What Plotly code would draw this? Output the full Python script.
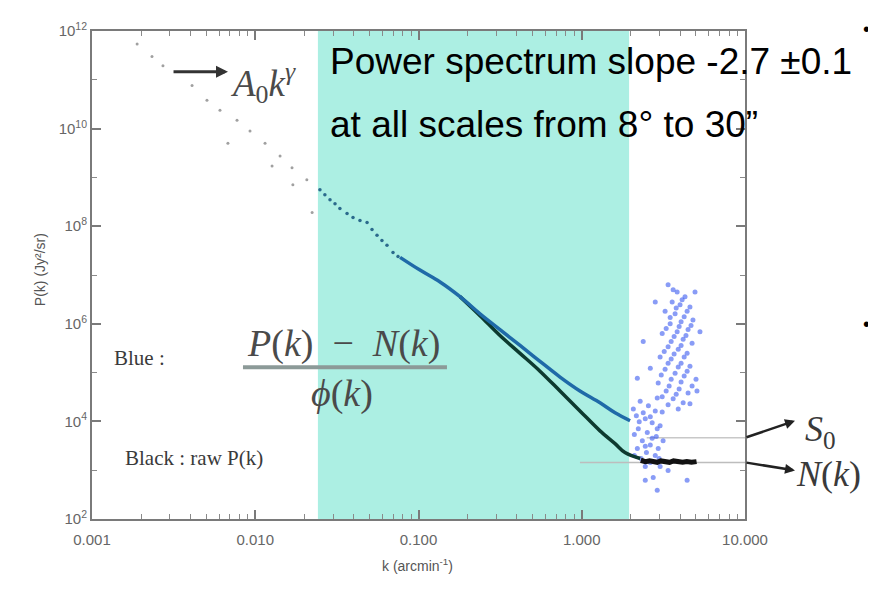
import plotly.graph_objects as go

# ---------------- data ----------------
# low-k grey points (A0 k^gamma regime)
grey_k = [0.00189, 0.00233, 0.00272, 0.0041, 0.00506, 0.00608, 0.0068, 0.00773,
          0.00929, 0.01148, 0.01268, 0.01419, 0.0168, 0.0170, 0.0207, 0.0223]
grey_P = [5.4e11, 3.0e11, 1.95e11, 7.6e10, 3.8e10, 2.37e10, 5.0e9, 1.48e10,
          8.9e9, 5.0e9, 1.72e9, 2.75e9, 1.57e9, 7.1e8, 8.9e8, 1.9e8]

# dotted dark points where the corrected spectrum starts
bdot_k = [0.0249, 0.0267, 0.0287, 0.0308, 0.0330, 0.0365, 0.0397, 0.0438,
          0.0484, 0.0519, 0.0557, 0.0597, 0.0641, 0.0698, 0.0749]
bdot_P = [5.6e8, 4.4e8, 3.5e8, 2.9e8, 2.3e8, 1.82e8, 1.51e8, 1.31e8,
          1.19e8, 8.6e7, 6.5e7, 5.1e7, 4.07e7, 2.9e7, 2.4e7]

# blue: (P(k) - N(k)) / phi(k)
blue_k = [0.0771, 0.1021, 0.1355, 0.1796, 0.2381, 0.3155, 0.4188, 0.5548,
          0.7362, 0.975, 1.294, 1.600, 1.977]
blue_P = [2.3e7, 1.26e7, 7.2e6, 3.6e6, 1.6e6, 7.6e5, 3.6e5, 1.7e5,
          8.1e4, 4.2e4, 2.4e4, 1.5e4, 1.03e4]

# black: raw P(k)
black_k = [0.1796, 0.2381, 0.3155, 0.4188, 0.5548, 0.7362, 0.975, 1.294,
           1.600, 1.84, 2.28]
black_P = [3.6e6, 1.47e6, 5.75e5, 2.48e5, 1.07e5, 4.19e4, 1.64e4, 6.4e3,
           3.5e3, 2.3e3, 1.74e3]

# black noisy plateau (noise level)
plat_k = [2.3, 2.45, 2.6, 2.75, 2.9, 3.05, 3.25, 3.45, 3.65, 3.9, 4.15, 4.4, 4.7, 5.05]
plat_P = [1.6e3, 1.5e3, 1.55e3, 1.5e3, 1.45e3, 1.55e3, 1.5e3, 1.45e3, 1.55e3,
          1.5e3, 1.45e3, 1.5e3, 1.45e3, 1.5e3]

# blue scatter at high k
bsc_k = [3.38, 3.84, 4.29, 3.58, 4.00, 4.60, 3.24, 3.73, 4.24, 4.80, 3.48, 3.95,
         4.48, 3.11, 3.68, 4.18, 4.74, 3.38, 3.90, 4.42, 3.02, 3.53, 4.06, 4.60,
         3.24, 3.73, 4.24, 5.01, 2.94, 3.43, 3.95, 4.48, 3.11, 3.63, 4.18,
         3.63, 4.12, 3.79, 4.42, 3.48, 4.06, 4.67, 3.29, 3.84, 4.35, 3.53, 4.06,
         3.20, 3.68, 4.24, 3.38, 3.90, 4.42, 3.07, 3.53, 4.06, 4.74, 3.29, 3.79,
         2.90, 3.38, 3.90,
         2.28, 2.56, 2.82, 2.16, 2.45, 2.70, 3.02, 2.22, 2.52, 2.86, 2.35, 2.63,
         2.19, 2.49, 2.82, 2.31, 2.63, 3.02,
         2.07, 2.38, 2.63, 2.25, 2.90, 2.10, 2.70, 2.45, 2.94, 2.10, 2.98, 2.45, 3.15, 3.11,
         2.38, 2.63, 2.19, 5.08, 4.60, 2.45, 2.90, 2.74, 4.42, 3.38, 5.30, 2.82, 4.94]
bsc_P = [6.3e6, 4.5e6, 3.6e6, 2.8e6, 2.45e6, 2.2e6, 1.8e6, 1.6e6, 1.4e6, 1.2e6, 1.0e6, 8.8e5,
         7.6e5, 6.3e5, 5.5e5, 4.8e5, 4.0e5, 3.4e5, 3.0e5, 2.5e5, 2.1e5, 1.9e5, 1.55e5, 1.35e5,
         1.17e5, 9.7e4, 8.5e4, 7.3e4, 6.1e4, 5.3e4, 4.6e4, 3.8e4, 3.2e4, 2.9e4, 2.4e4,
         5.0e6, 3.1e6, 2.1e6, 1.8e6, 1.34e6, 1.1e6, 9.2e5, 8.0e5, 6.9e5, 5.75e5, 4.35e5, 3.6e5,
         2.7e5, 2.4e5, 2.1e5, 1.55e5, 1.3e5, 1.07e5, 8.9e4, 7.3e4, 6.4e4, 5.3e4, 4.2e4, 3.6e4,
         3.0e4, 2.2e4, 1.8e4,
         2.6e4, 2.1e4, 1.64e4, 1.3e4, 1.13e4, 9.4e3, 8.1e3, 7.1e3, 5.9e3, 4.9e3, 4.0e3, 3.3e3,
         2.8e3, 2.3e3, 2.0e3, 1.74e3, 1.44e3, 1.19e3,
         1.8e4, 1.5e4, 1.24e4, 9.8e3, 7.1e3, 5.4e3, 4.5e3, 3.1e3, 2.8e3, 2.0e3, 1.74e3, 1.19e3, 4.0e3, 1.55e4,
         4.35e5, 1.23e5, 7.7e4, 4.2e4, 2.3e4, 6.2e2, 3.9e2, 7.1e2, 6.2e2, 9.9e2, 6.9e5, 2.8e6, 4.5e6]

# reference levels
noise_k = [0.975, 10.0]
noise_P = [1.44e3, 1.44e3]
s0_k = [2.5, 10.0]
s0_P = [4.6e3, 4.6e3]

# shaded k range
band_k = [0.0242, 1.95]

x_tickvals = [0.001, 0.01, 0.1, 1, 10]
x_ticktext = ["0.001", "0.010", "0.100", "1.000", "10.000"]
x_minor = [m * d for d in [0.001, 0.01, 0.1, 1] for m in range(2, 10)]
y_tickvals = [1e2, 1e4, 1e6, 1e8, 1e10, 1e12]
y_ticktext = ["10<sup>2</sup>", "10<sup>4</sup>", "10<sup>6</sup>",
              "10<sup>8</sup>", "10<sup>10</sup>", "10<sup>12</sup>"]
y_minor = [1e3, 1e5, 1e7, 1e9, 1e11]

# ---------------- figure ----------------
fig = go.Figure()

fig.add_trace(go.Scatter(x=noise_k, y=noise_P, mode="lines",
                         line=dict(color="#bdbdbd", width=1.5), hoverinfo="skip"))
fig.add_trace(go.Scatter(x=s0_k, y=s0_P, mode="lines",
                         line=dict(color="#c8c8c8", width=1.5), hoverinfo="skip"))
fig.add_trace(go.Scatter(x=grey_k, y=grey_P, mode="markers",
                         marker=dict(color="#a0a0a0", size=3)))
fig.add_trace(go.Scatter(x=bdot_k, y=bdot_P, mode="markers",
                         marker=dict(color="#2a6a8c", size=3.5)))
fig.add_trace(go.Scatter(x=bsc_k, y=bsc_P, mode="markers",
                         marker=dict(color="#3a5af0", size=5, opacity=0.6)))
fig.add_trace(go.Scatter(x=black_k, y=black_P, mode="lines",
                         line=dict(color="#0d3a2f", width=3.5, shape="spline")))
fig.add_trace(go.Scatter(x=plat_k, y=plat_P, mode="lines",
                         line=dict(color="#111111", width=5)))
fig.add_trace(go.Scatter(x=blue_k, y=blue_P, mode="lines",
                         line=dict(color="#1f6aa8", width=3.5, shape="spline")))

fig.add_shape(type="rect", xref="x", yref="paper", x0=band_k[0], x1=band_k[1],
              y0=0, y1=1, fillcolor="#acefe3", line=dict(width=0), layer="below")
# fraction bar of the blue label
fig.add_shape(type="line", xref="paper", yref="paper", x0=0.2312, x1=0.5436,
              y0=0.311, y1=0.311, line=dict(color="#8c9a98", width=4))

serif = "Liberation Serif, Times New Roman, serif"
sans = "Liberation Sans, Arial, sans-serif"

ann = []
# big slide text
ann.append(dict(text="Power spectrum slope -2.7 ±0.1", x=0.3614, y=0.937,
                xanchor="left", yanchor="middle", font=dict(family=sans, size=37, color="#000")))
ann.append(dict(text="at all scales from 8° to 30”", x=0.3614, y=0.809,
                xanchor="left", yanchor="middle", font=dict(family=sans, size=37, color="#000")))
# bullets
ann.append(dict(text="•", x=1.186, y=1.004, xanchor="center", yanchor="middle",
                font=dict(family=sans, size=20, color="#000")))
ann.append(dict(text="•", x=1.186, y=0.400, xanchor="center", yanchor="middle",
                font=dict(family=sans, size=20, color="#000")))
# A0 k^gamma
ann.append(dict(text="", x=0.2083, y=0.9167, ax=-56, ay=0, showarrow=True,
                arrowhead=2, arrowsize=0.8, arrowwidth=3, arrowcolor="#333"))
ann.append(dict(text="<i>A</i><sub>0</sub><i>k</i><sup><i>γ</i></sup>", x=0.262, y=0.893,
                xanchor="center", yanchor="middle", font=dict(family=serif, size=37, color="#4a4a4a")))
# fraction
ann.append(dict(text="<i>P</i>(<i>k</i>)  −  <i>N</i>(<i>k</i>)", x=0.3859, y=0.3598,
                xanchor="center", yanchor="middle", font=dict(family=serif, size=38, color="#4a4a4a")))
ann.append(dict(text="<i>ϕ</i>(<i>k</i>)", x=0.3828, y=0.2581,
                xanchor="center", yanchor="middle", font=dict(family=serif, size=38, color="#4a4a4a")))
# labels
ann.append(dict(text="Blue :", x=0.0306, y=0.329, xanchor="left", yanchor="middle",
                font=dict(family=serif, size=21, color="#3a3a3a")))
ann.append(dict(text="Black : raw P(k)", x=0.0475, y=0.126, xanchor="left", yanchor="middle",
                font=dict(family=serif, size=21, color="#3a3a3a")))
# S0 and N(k) arrows and labels
ann.append(dict(text="", x=1.0766, y=0.2012, ax=-50, ay=17, showarrow=True,
                arrowhead=2, arrowsize=0.8, arrowwidth=2.5, arrowcolor="#222"))
ann.append(dict(text="", x=1.0766, y=0.0996, ax=-50, ay=-8, showarrow=True,
                arrowhead=2, arrowsize=0.8, arrowwidth=2.5, arrowcolor="#222"))
ann.append(dict(text="<i>S</i><sub>0</sub>", x=1.116, y=0.18, xanchor="center", yanchor="middle",
                font=dict(family=serif, size=36, color="#3a3a3a")))
ann.append(dict(text="<i>N</i>(<i>k</i>)", x=1.128, y=0.093, xanchor="center", yanchor="middle",
                font=dict(family=serif, size=36, color="#3a3a3a")))
# axis titles
ann.append(dict(text="P(k) (Jy²/sr)", x=-0.0796, y=0.51, textangle=-90,
                xanchor="center", yanchor="middle", font=dict(family=sans, size=14, color="#555")))
ann.append(dict(text="k (arcmin<sup>-1</sup>)", x=0.499, y=-0.0935,
                xanchor="center", yanchor="middle", font=dict(family=sans, size=14, color="#555")))

for a in ann:
    a.setdefault("xref", "paper")
    a.setdefault("yref", "paper")
    a.setdefault("showarrow", False)
fig.update_layout(annotations=ann)

axis_common = dict(showline=True, linecolor="#7a7a7a", linewidth=2, mirror="ticks",
                   ticks="inside", ticklen=9, tickwidth=1.5, tickcolor="#7a7a7a",
                   showgrid=False, zeroline=False,
                   tickfont=dict(family=sans, size=15, color="#666"))

fig.update_xaxes(type="log", range=[-3, 1], tickmode="array",
                 tickvals=x_tickvals, ticktext=x_ticktext, ticklabelstandoff=6,
                 minor=dict(tickvals=x_minor, ticks="inside", ticklen=5, tickcolor="#8a8a8a", tickwidth=1),
                 **axis_common)
fig.update_yaxes(type="log", range=[2, 12], tickmode="array",
                 tickvals=y_tickvals, ticktext=y_ticktext,
                 minor=dict(tickvals=y_minor, ticks="inside", ticklen=5, tickcolor="#8a8a8a", tickwidth=1),
                 **axis_common)

# the page adds an 8 px body margin, so the figure is 868 x 581
fig.update_layout(width=868, height=581, showlegend=False,
                  margin=dict(l=84, r=131, t=19, b=70),
                  plot_bgcolor="white", paper_bgcolor="white")

fig.write_html("out.html")
